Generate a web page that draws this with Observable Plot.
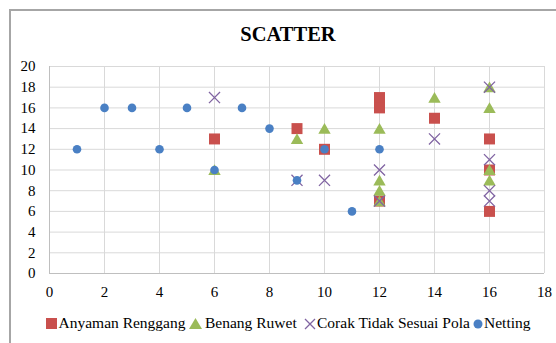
<!DOCTYPE html>
<html><head><meta charset="utf-8">
<script src="https://cdn.jsdelivr.net/npm/d3@7"></script>
<script src="https://cdn.jsdelivr.net/npm/@observablehq/plot@0.6"></script>
<style>
html,body{margin:0;padding:0;background:#fff;}
#wrap{position:relative;width:556px;height:343px;overflow:hidden;font-family:"Liberation Serif","Times New Roman",serif;color:#000;}
#border{position:absolute;left:9px;top:8.5px;width:600px;height:400px;border-left:2px solid #a6a6a6;border-top:2px solid #a6a6a6;}
#title{position:absolute;left:0;width:576px;top:21.7px;text-align:center;font-weight:bold;font-size:20.5px;line-height:24px;}
#chart{position:absolute;left:0;top:0;}
.leg{position:absolute;top:313.8px;font-size:15.5px;line-height:18px;white-space:nowrap;}
.icon{position:absolute;}
</style>
</head><body>
<div id="wrap">
  <div id="border"></div>
  <div id="chart"></div>
  <div id="title">SCATTER</div>
  <div id="legend"></div>
</div>
<script>
// ---- data ----
const xTicks = [0, 2, 4, 6, 8, 10, 12, 14, 16, 18];
const yTicks = [0, 2, 4, 6, 8, 10, 12, 14, 16, 18, 20];

const seriesNames = ["Anyaman Renggang", "Benang Ruwet", "Corak Tidak Sesuai Pola", "Netting"];

const anyamanX = [6, 9, 10, 12, 12, 12, 14, 16, 16, 16];
const anyamanY = [13, 14, 12, 17, 16, 7, 15, 13, 10, 6];

const benangX = [6, 9, 10, 12, 12, 12, 12, 14, 16, 16, 16, 16];
const benangY = [10, 13, 14, 14, 9, 8, 7, 17, 18, 16, 10, 9];

const corakX = [6, 9, 10, 12, 12, 14, 16, 16, 16, 16];
const corakY = [17, 9, 9, 10, 7, 13, 18, 11, 8, 7];

const nettingX = [1, 2, 3, 4, 5, 6, 7, 8, 9, 10, 11, 12];
const nettingY = [12, 16, 16, 12, 16, 10, 16, 14, 9, 12, 6, 12];

const colors = ["#C9504D", "#9BBB59", "#8064A2", "#4A80C4"];

const rows = (xs, ys) => xs.map((x, i) => ({x, y: ys[i]}));
const anyaman = rows(anyamanX, anyamanY);
const benang = rows(benangX, benangY);
const corak = rows(corakX, corakY);
const netting = rows(nettingX, nettingY);

const chart = Plot.plot({
  width: 556,
  height: 343,
  marginLeft: 49,
  marginRight: 12,
  marginTop: 66,
  marginBottom: 70,
  x: {domain: [0, 18]},
  y: {domain: [0, 20]},
  style: {fontFamily: '"Liberation Serif", "Times New Roman", serif', fontSize: "15px", color: "#000", background: "transparent"},
  marks: [
    Plot.gridX(xTicks, {stroke: "#d9d9d9", strokeOpacity: 1}),
    Plot.gridY(yTicks, {stroke: "#d9d9d9", strokeOpacity: 1}),
    Plot.ruleX([0], {stroke: "#bfbfbf"}),
    Plot.ruleY([0], {stroke: "#bfbfbf"}),
    Plot.axisX(xTicks, {tickSize: 0, tickPadding: 13, label: null, fontSize: 15}),
    Plot.axisY(yTicks, {tickSize: 0, tickPadding: 14, label: null, fontSize: 15}),
    Plot.dot(anyaman, {x: "x", y: "y", symbol: "square", fill: colors[0], r: 6.2}),
    Plot.dot(benang, {x: "x", y: "y", symbol: "triangle", fill: colors[1], r: 4.6, dy: 1.5}),
    Plot.dot(corak, {x: "x", y: "y", symbol: "times", stroke: colors[2], fill: "none", r: 5.1, strokeWidth: 1.3}),
    Plot.dot(netting, {x: "x", y: "y", symbol: "circle", fill: colors[3], r: 4.3})
  ]
});
document.getElementById("chart").appendChild(chart);

// ---- legend ----
const legend = document.getElementById("legend");
const iconX = [46, 189, 304, 473];
const textX = [58.5, 205, 317, 484];
const iconSvg = [
  `<svg class="icon" style="left:46px;top:318px" width="11" height="11"><rect width="11" height="11" fill="${colors[0]}"/></svg>`,
  `<svg class="icon" style="left:189px;top:318px" width="13" height="11"><polygon points="6.5,0 13,11 0,11" fill="${colors[1]}"/></svg>`,
  `<svg class="icon" style="left:304px;top:317.5px" width="12" height="12"><path d="M1,1L11,11M1,11L11,1" stroke="${colors[2]}" stroke-width="1.3"/></svg>`,
  `<svg class="icon" style="left:473px;top:318.5px" width="10" height="10"><circle cx="5" cy="5" r="4.5" fill="${colors[3]}"/></svg>`
];
seriesNames.forEach((name, i) => {
  legend.insertAdjacentHTML("beforeend", iconSvg[i]);
  const t = document.createElement("div");
  t.className = "leg";
  t.style.left = textX[i] + "px";
  t.textContent = name;
  legend.appendChild(t);
});
</script>
</body></html>
